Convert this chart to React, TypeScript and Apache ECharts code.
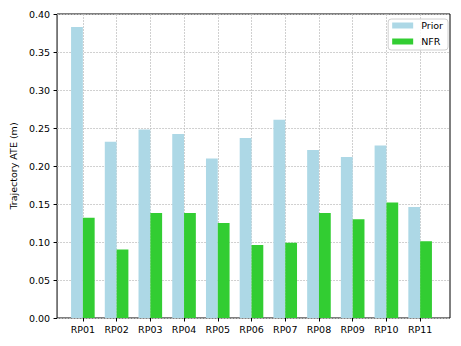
import React, { useEffect, useRef } from "react";
import * as echarts from "echarts";

const categories = ["RP01", "RP02", "RP03", "RP04", "RP05", "RP06", "RP07", "RP08", "RP09", "RP10", "RP11"];
const priorValues = [0.383, 0.232, 0.248, 0.242, 0.210, 0.237, 0.261, 0.221, 0.212, 0.227, 0.146];
const nfrValues = [0.132, 0.090, 0.138, 0.138, 0.125, 0.096, 0.099, 0.138, 0.130, 0.152, 0.101];
const yTicks = { min: 0, max: 0.4, interval: 0.05 };

const FONT = "DejaVu Sans";
const gridLine = { show: true, lineStyle: { color: "#c4c4c4", width: 0.8, type: [2, 1] as any } };

export default function App() {
  const ref = useRef<HTMLDivElement>(null);
  useEffect(() => {
    if (!ref.current) return;
    const chart = echarts.init(ref.current, null, { renderer: "svg" });
    chart.setOption({
      animation: false,
      textStyle: { fontFamily: FONT },
      grid: [
        { left: 53, right: 11, top: 14, bottom: 28, show: true, borderColor: "#000", borderWidth: 1, backgroundColor: "transparent" },
        { left: 66, right: 24, top: 14, bottom: 28 },
      ],
      legend: {
        orient: "vertical",
        right: 13,
        top: 19,
        padding: [1, 5, 3, 4],
        itemGap: 5,
        itemWidth: 21,
        itemHeight: 6,
        borderColor: "#d0d0d0",
        borderWidth: 1,
        borderRadius: 3,
        backgroundColor: "rgba(255,255,255,0.8)",
        icon: "rect",
        textStyle: { fontFamily: FONT, fontSize: 9.5, color: "#000", lineHeight: 11, padding: [0, 0, 0, 3] },
        data: ["Prior", "NFR"],
      },
      xAxis: [
        { type: "value", gridIndex: 0, min: 0, max: 1, show: false },
        {
          type: "category",
          gridIndex: 1,
          data: categories,
          axisLine: { show: false },
          axisTick: { show: true, alignWithLabel: true, length: 3.5, lineStyle: { color: "#000" } },
          axisLabel: { fontFamily: FONT, fontSize: 9.5, color: "#000", margin: 6 },
          splitLine: { ...gridLine, alignWithLabel: true } as any,
        },
      ],
      yAxis: [
        {
          type: "value",
          gridIndex: 0,
          min: yTicks.min,
          max: yTicks.max,
          interval: yTicks.interval,
          name: "Trajectory ATE (m)",
          nameLocation: "middle",
          nameGap: 33,
          nameTextStyle: { fontFamily: FONT, fontSize: 9.5, color: "#000" },
          axisLine: { show: false },
          axisTick: { show: true, length: 3.5, lineStyle: { color: "#000" } },
          axisLabel: { fontFamily: FONT, fontSize: 9.5, color: "#000", margin: 7, formatter: (v: number) => v.toFixed(2) },
          splitLine: gridLine,
        },
        { type: "value", gridIndex: 1, min: yTicks.min, max: yTicks.max, show: false, splitLine: { show: false } },
      ],
      series: [
        { name: "Prior", type: "bar", xAxisIndex: 1, yAxisIndex: 1, data: priorValues, barWidth: 11.8, barGap: "0%", itemStyle: { color: "#add8e6" } },
        { name: "NFR", type: "bar", xAxisIndex: 1, yAxisIndex: 1, data: nfrValues, barWidth: 11.8, barGap: "0%", itemStyle: { color: "#32cd32" } },
      ],
    });
    return () => chart.dispose();
  }, []);
  return <div ref={ref} style={{ width: 461, height: 346, position: "absolute", left: 0, top: 0 }} />;
}
